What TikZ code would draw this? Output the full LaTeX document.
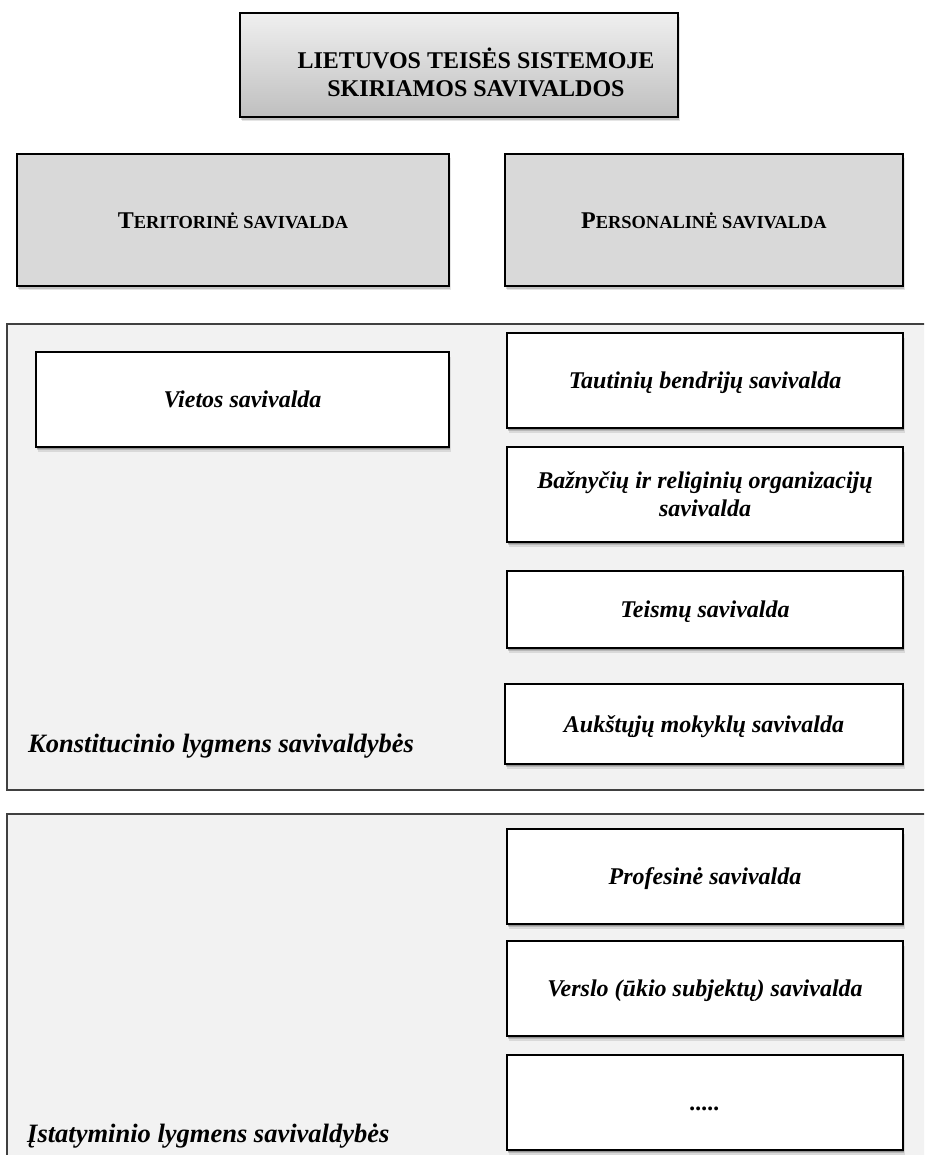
\documentclass[tikz,border=0pt]{standalone}
\usepackage{fontspec}
\setmainfont{Liberation Serif}
\usetikzlibrary{shadows}
\newcommand\fsmain{\fontsize{24}{28}\selectfont}
\newcommand\fslabel{\fontsize{26.5}{31}\selectfont}
\newcommand\mysmallcaps[1]{{\fontsize{18.4}{22}\selectfont #1}}
\begin{document}
\begin{tikzpicture}[x=1pt,y=-1pt,
  shad/.style={drop shadow={shadow xshift=1.5pt,shadow yshift=-4.5pt,opacity=0.10,fill=black},
               drop shadow={shadow xshift=1pt,shadow yshift=-3pt,opacity=0.15,fill=black},
               drop shadow={shadow xshift=0.5pt,shadow yshift=-1.5pt,opacity=0.2,fill=black}},
  whitebox/.style={draw=black,line width=1.8pt,fill=white,shad,inner sep=0pt,
    font=\fsmain\bfseries\itshape,text height=16.5pt,text depth=0pt,align=center},
  graybox/.style={draw=black,line width=1.8pt,fill=black!15,shad,inner sep=0pt,
    font=\fsmain\bfseries,text height=16.5pt,text depth=0pt},
  titlebox/.style={draw=black,line width=1.8pt,top color=black!6,bottom color=black!25,shad,inner sep=0pt},
  container/.style={draw=black!75,line width=1.5pt,fill=black!5,inner sep=0pt},
  lbl/.style={font=\fslabel\bfseries\itshape,anchor=base west,inner sep=0pt}
]
\useasboundingbox (0,0) rectangle (924,1155);
\fill[white] (0,0) rectangle (924,1155);
\clip (0,0) rectangle (924,1155);

% containers
\node[container,minimum width=933pt,minimum height=466pt] (c1) at (473.5,557) {};
\node[container,minimum width=933pt,minimum height=361pt] (c2) at (473.5,994.5) {};

% title
\node[titlebox,minimum width=438pt,minimum height=104pt] (tbox) at (459,65) {};
\node[font=\fsmain\bfseries,align=center,inner sep=0pt] (ttext) at (476,72)
  {LIETUVOS TEISĖS SISTEMOJE\\SKIRIAMOS SAVIVALDOS};

% headers
\node[graybox,minimum width=432pt,minimum height=132pt] (terit) at (233,220)
  {T\mysmallcaps{ERITORINĖ SAVIVALDA}};
\node[graybox,minimum width=398pt,minimum height=132pt] (perso) at (704,220)
  {P\mysmallcaps{ERSONALINĖ SAVIVALDA}};

% constitutional level
\node[whitebox,minimum width=413pt,minimum height=95pt] (vietos) at (242.5,399.5) {Vietos savivalda};
\node[whitebox,minimum width=396pt,minimum height=95pt] (tautin) at (705,380.5) {Tautinių bendrijų savivalda};
\node[draw=black,line width=1.8pt,fill=white,shad,inner sep=0pt,font=\fsmain\bfseries\itshape,align=center,
  minimum width=396pt,minimum height=95pt] (baz) at (705,494.5) {Bažnyčių ir religinių organizacijų\\savivalda};
\node[whitebox,minimum width=396pt,minimum height=77pt] (teis) at (705,609.5) {Teismų savivalda};
\node[whitebox,minimum width=398pt,minimum height=80pt] (auks) at (704,724) {Aukštųjų mokyklų savivalda};
\node[lbl] (konst) at (28,752) {Konstitucinio lygmens savivaldybės};

% statutory level
\node[whitebox,minimum width=396pt,minimum height=95pt] (prof) at (705,876.5) {Profesinė savivalda};
\node[whitebox,minimum width=396pt,minimum height=95pt] (versl) at (705,988.5) {Verslo (ūkio subjektų) savivalda};
\node[whitebox,minimum width=396pt,minimum height=95pt] (dots) at (705,1102.5) {.....};
\node[lbl] (istat) at (27,1142) {Įstatyminio lygmens savivaldybės};
\end{tikzpicture}
\end{document}
